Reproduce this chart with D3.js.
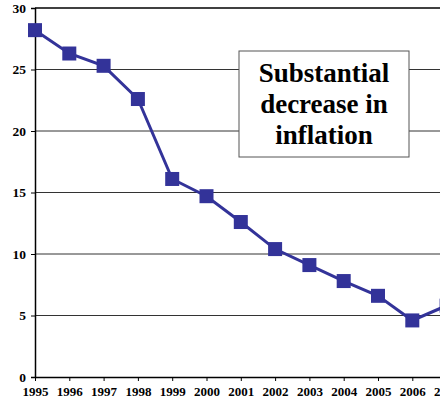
<!DOCTYPE html>
<html><head><meta charset="utf-8">
<script src="https://cdn.jsdelivr.net/npm/d3@7"></script>
<style>body{margin:0;background:#fff}svg{display:block}</style>
</head><body>
<script>
const years = [1995,1996,1997,1998,1999,2000,2001,2002,2003,2004,2005,2006,2007];
const inflation = [28.2,26.3,25.3,22.6,16.1,14.7,12.6,10.4,9.1,7.8,6.6,4.6,5.8];
const yTicks = [0,5,10,15,20,25,30];
const boxLines = ["Substantial","decrease in","inflation"];

const W=440,H=404;
const FONT='"Liberation Serif"';
const svg=d3.select("body").append("svg").attr("width",W).attr("height",H);
const x=d3.scaleLinear().domain([1995,2007]).range([35,446.6]);
const y=d3.scaleLinear().domain([0,30]).range([377,8]);

// gridlines
svg.append("g").selectAll("line").data(yTicks.filter(d=>d>0)).join("line")
  .attr("x1",35).attr("x2",W).attr("y1",d=>y(d)).attr("y2",d=>y(d))
  .attr("stroke",d=>d===30?"#000":"#333").attr("stroke-width",d=>d===30?1.5:1);

// y axis
const ya=svg.append("g").attr("transform","translate(35,0)").call(d3.axisLeft(y).tickValues(yTicks).tickSize(4).tickPadding(5));
ya.select(".domain").attr("stroke","#000").attr("stroke-width",1.5);
ya.selectAll("text").style("font-family",FONT).style("font-weight","bold").style("font-size","13.5px").attr("fill","#000");

// x axis
const xa=svg.append("g").attr("transform","translate(0,377)").call(d3.axisBottom(x).tickValues(years).tickFormat(d3.format("d")).tickSize(4).tickSizeOuter(0).tickPadding(6));
xa.select(".domain").attr("stroke","#000").attr("stroke-width",1.5);
xa.selectAll("text").style("font-family",FONT).style("font-weight","bold").style("font-size","13px").attr("fill","#000");

// line
const line=d3.line().x((d,i)=>x(years[i])).y(d=>y(d));
svg.append("path").datum(inflation).attr("d",line).attr("fill","none").attr("stroke","#333399").attr("stroke-width",3);
svg.append("g").selectAll("rect").data(inflation).join("rect")
  .attr("x",(d,i)=>x(years[i])-7).attr("y",d=>y(d)-7).attr("width",14).attr("height",14).attr("fill","#333399");

// text box
const bx=239,by=51,bw=170,bh=106;
svg.append("rect").attr("x",bx).attr("y",by).attr("width",bw).attr("height",bh).attr("fill","#fff").attr("stroke","#555").attr("stroke-width",1);
svg.append("g").selectAll("text").data(boxLines).join("text")
  .attr("x",bx+bw/2).attr("y",(d,i)=>82+i*31).attr("text-anchor","middle")
  .style("font-family",FONT).style("font-weight","bold").style("font-size","27px").attr("fill","#000").text(d=>d);
</script>
</body></html>
